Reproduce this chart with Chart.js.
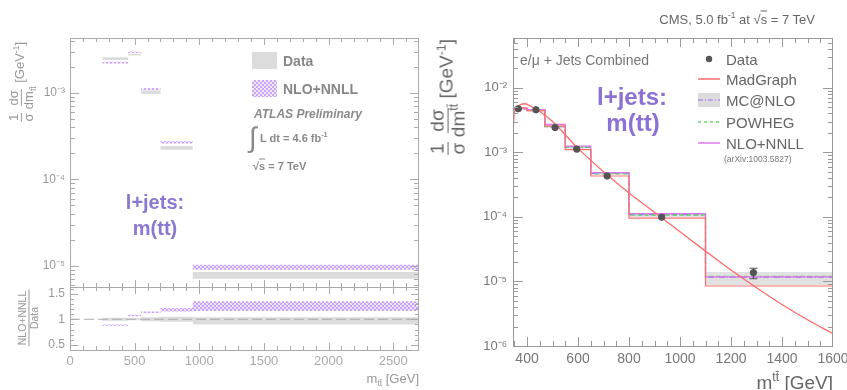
<!DOCTYPE html>
<html><head><meta charset="utf-8">
<script src="https://cdn.jsdelivr.net/npm/chart.js@4.4.0/dist/chart.umd.min.js"></script>
<style>
html,body{margin:0;padding:0;background:#fff;}
#wrap{position:relative;width:847px;height:390px;overflow:hidden;font-family:'Liberation Sans',Arial,Helvetica,sans-serif;}
canvas{position:absolute;}
.t{position:absolute;white-space:nowrap;line-height:1;transform:translateY(-50%);}
.c{position:absolute;white-space:nowrap;line-height:1;transform:translate(-50%,-50%);}
.rot{position:absolute;white-space:nowrap;line-height:1;transform:translate(-50%,-50%) rotate(-90deg);}
.frac{display:inline-flex;flex-direction:column;align-items:center;vertical-align:middle;line-height:1.05;}
.frac>span:first-child{border-bottom:1px solid currentColor;padding:0 1px;}
sup,sub{font-size:0.65em;line-height:0;}
</style></head>
<body>
<div id="wrap">
  <canvas id="cL" width="430" height="288" style="left:0;top:0;width:430px;height:288px"></canvas>
  <canvas id="cR" width="430" height="103" style="left:0;top:287px;width:430px;height:103px"></canvas>
  <canvas id="cC" width="417" height="390" style="left:430px;top:0;width:417px;height:390px"></canvas>

  <!-- ATLAS panel texts -->
  <div class="rot" style="left:21px;top:82px;font-size:13px;color:#999">
    <span class="frac"><span>1</span><span>σ</span></span>
    <span class="frac"><span>dσ</span><span>dm<sub>tt̄</sub></span></span> [GeV<sup>-1</sup>]</div>
  <div class="rot" style="left:29px;top:318px;font-size:10.5px;color:#999">
    <span class="frac"><span>NLO+NNLL</span><span>Data</span></span></div>
  <div style="position:absolute;left:252px;top:52px;width:25px;height:17px;background:#dcdcdc"></div>
  <div class="t" style="left:283px;top:61px;font-size:14px;font-weight:bold;color:#888">Data</div>
  <div style="position:absolute;left:252px;top:80px;width:25px;height:17px;background-image:repeating-conic-gradient(#caa8f8 0 25%, #efe6fd 0 50%);background-size:4px 4px"></div>
  <div class="t" style="left:283px;top:89px;font-size:14px;font-weight:bold;color:#888">NLO+NNLL</div>
  <div class="t" style="left:254px;top:114px;font-size:12px;font-weight:bold;font-style:italic;color:#8a8a8a">ATLAS Preliminary</div>
  <div class="t" style="left:249px;top:138px;font-size:28px;color:#8a8a8a">∫</div>
  <div class="t" style="left:260px;top:138px;font-size:11px;font-weight:bold;color:#8a8a8a">L dt = 4.6 fb<sup>-1</sup></div>
  <div class="t" style="left:253px;top:166px;font-size:11px;font-weight:bold;color:#8a8a8a">√<span style="text-decoration:overline">s</span> = 7 TeV</div>
  <div class="c" style="left:155px;top:202px;font-size:20px;font-weight:bold;color:#8c78d2">l+jets:</div>
  <div class="c" style="left:155px;top:228px;font-size:20px;font-weight:bold;color:#8c78d2">m(tt)</div>
  <div class="t" style="right:428px;top:378px;font-size:13px;color:#999">m<sub>tt̄</sub> [GeV]</div>

  <!-- CMS panel texts -->
  <div class="t" style="right:32px;top:19px;font-size:13px;color:#666">CMS, 5.0 fb<sup>-1</sup> at √<span style="text-decoration:overline">s</span> = 7 TeV</div>
  <div class="rot" style="left:448px;top:97px;font-size:19px;color:#666">
    <span class="frac"><span>1</span><span>σ</span></span>
    <span class="frac"><span>dσ</span><span>dm<sup>tt̄</sup></span></span> [GeV<sup>-1</sup>]</div>
  <div class="t" style="left:520px;top:60px;font-size:14px;color:#777">e/μ + Jets Combined</div>
  <svg style="position:absolute;left:695px;top:45px" width="30" height="110">
    <circle cx="14" cy="14" r="3.2" fill="#555"/>
    <line x1="3" y1="34" x2="25" y2="34" stroke="#ff6b6b" stroke-width="1.5"/>
    <rect x="3" y="48" width="22" height="14" fill="#dcdcdc"/>
    <line x1="3" y1="55" x2="25" y2="55" stroke="#9966ff" stroke-width="1.2" stroke-dasharray="5,2,1,2"/>
    <line x1="3" y1="77" x2="25" y2="77" stroke="#66dd66" stroke-width="1.3" stroke-dasharray="3,3"/>
    <line x1="3" y1="98" x2="25" y2="98" stroke="#dd77ee" stroke-width="1.5"/>
  </svg>
  <div class="t" style="left:726px;top:59px;font-size:15px;color:#666">Data</div>
  <div class="t" style="left:726px;top:79px;font-size:15px;color:#666">MadGraph</div>
  <div class="t" style="left:726px;top:100px;font-size:15px;color:#666">MC@NLO</div>
  <div class="t" style="left:726px;top:122px;font-size:15px;color:#666">POWHEG</div>
  <div class="t" style="left:726px;top:143px;font-size:15px;color:#666">NLO+NNLL</div>
  <div class="t" style="left:724px;top:159px;font-size:8.5px;color:#777">(arXiv:1003.5827)</div>
  <div class="c" style="left:632px;top:97px;font-size:24px;font-weight:bold;color:#8c70d4">l+jets:</div>
  <div class="c" style="left:633px;top:123px;font-size:24px;font-weight:bold;color:#8c70d4">m(tt)</div>
  <div class="t" style="right:14px;top:382px;font-size:19px;color:#666">m<sup>tt̄</sup> [GeV]</div>
</div>

<script>
// ===== ATLAS (left) =====
const atlasEdges  = [250, 450, 550, 700, 950, 2700];
const atlasDataLo = [2.40e-3, 2.70e-3, 0.97e-3, 2.20e-4, 7.1e-6];
const atlasDataHi = [2.58e-3, 2.80e-3, 1.06e-3, 2.43e-4, 8.5e-6];
const atlasNnllLo = [2.18e-3, 2.88e-3, 1.08e-3, 2.60e-4, 9.0e-6];
const atlasNnllHi = [2.28e-3, 2.98e-3, 1.13e-3, 2.75e-4, 1.03e-5];
const ratioNnllLo = [0.875, 1.06, 1.12, 1.15, 1.16];
const ratioNnllHi = [0.90, 1.09, 1.15, 1.22, 1.35];
const ratioDataLo = [0.97, 0.98, 0.96, 0.95, 0.90];
const ratioDataHi = [1.03, 1.02, 1.04, 1.05, 1.04];
const unityX = [0, 2700];
const unityY = 1;
const atlasXTicks = [0, 500, 1000, 1500, 2000, 2500];
const atlasYTicks = [1e-5, 1e-4, 1e-3];
const ratioYTicks = [0.5, 1, 1.5];

// ===== CMS (right) =====
const cmsEdges   = [345, 400, 470, 550, 650, 800, 1100, 1600];
const madgraph   = [4.9e-3, 4.4e-3, 2.55e-3, 1.10e-3, 4.3e-4, 9.6e-5, 8.5e-6];
const mcnlo      = [4.7e-3, 4.5e-3, 2.50e-3, 1.20e-3, 4.7e-4, 1.08e-4, 1.17e-5];
const mcnloHi    = [4.85e-3, 4.65e-3, 2.65e-3, 1.26e-3, 4.9e-4, 1.13e-4, 1.4e-5];
const mcnloLo    = [4.55e-3, 4.35e-3, 2.40e-3, 1.14e-3, 4.5e-4, 1.0e-4, 8.7e-6];
const powheg     = [4.75e-3, 4.5e-3, 2.50e-3, 1.20e-3, 4.65e-4, 1.07e-4, 1.2e-5];
const nnll       = [4.8e-3, 4.6e-3, 2.70e-3, 1.25e-3, 4.85e-4, 1.12e-4, 1.18e-5];
const cmsX       = [366, 435, 510, 595, 714, 928, 1288];
const cmsY       = [4.73e-3, 4.56e-3, 2.42e-3, 1.12e-3, 4.3e-4, 9.9e-5, 1.37e-5];
const cmsErrLo   = [4.55e-3, 4.40e-3, 2.32e-3, 1.07e-3, 4.05e-4, 9.1e-5, 1.1e-5];
const cmsErrHi   = [4.91e-3, 4.72e-3, 2.52e-3, 1.17e-3, 4.55e-4, 1.07e-4, 1.6e-5];
const mgCurveX   = [345, 346, 348, 352, 360, 375, 392, 410, 425, 450, 500, 600, 700, 800, 900, 1000, 1100, 1200, 1300, 1400, 1500, 1600];
const mgCurveY   = [2e-4, 1.5e-3, 3.2e-3, 4.3e-3, 5.0e-3, 5.5e-3, 5.65e-3, 5.3e-3, 4.9e-3, 4.3e-3, 3.0e-3, 1.15e-3, 5.0e-4, 2.35e-4, 1.18e-4, 5.9e-5, 2.95e-5, 1.5e-5, 8.0e-6, 4.4e-6, 2.55e-6, 1.55e-6];
const cmsXTicks  = [400, 600, 800, 1000, 1200, 1400, 1600];
const cmsYTicks  = [1e-6, 1e-5, 1e-4, 1e-3, 1e-2];

const FONT = "'Liberation Sans', Arial, Helvetica, sans-serif";
const SUP = {'-':'⁻','0':'⁰','1':'¹','2':'²','3':'³','4':'⁴','5':'⁵','6':'⁶','7':'⁷','8':'⁸','9':'⁹'};
function fmtPow(v){ const e = Math.round(Math.log10(v)); return '10' + String(e).split('').map(c=>SUP[c]).join(''); }
function fmtPlain(v){ return String(v); }
function stepPts(edges, vals){ const p=[]; vals.forEach((v,i)=>{ p.push({x:edges[i],y:v},{x:edges[i+1],y:v}); }); return p; }
function fitAxis(w,h){ return s => { if(w!=null) s.width=w; if(h!=null) s.height=h; s.paddingLeft=0; s.paddingRight=0; s.paddingTop=0; s.paddingBottom=0; }; }
function setTicks(arr){ return s => { s.ticks = arr.map(v=>({value:v})); }; }
function makeHatch(){ const c=document.createElement('canvas'); c.width=4; c.height=4; const g=c.getContext('2d'); g.fillStyle='#efe6fd'; g.fillRect(0,0,4,4); g.fillStyle='#c5a2f7'; g.fillRect(0,0,2,2); g.fillRect(2,2,2,2); return g.createPattern(c,'repeat'); }
const hatch = makeHatch();
const NONE = 'rgba(0,0,0,0)';
const NOGRID = {display:false, drawTicks:false};

// frame + inward ROOT-style ticks (decoration derived from scales)
const rootFrame = {
  id:'rootFrame',
  afterDatasetsDraw(chart, args, o){
    const {ctx, chartArea:a, scales} = chart; const xs=scales.x, ys=scales.y;
    ctx.save(); ctx.strokeStyle=o.color; ctx.lineWidth=1;
    ctx.strokeRect(Math.round(a.left)+0.5, Math.round(a.top)+0.5, Math.round(a.right-a.left)-1, Math.round(a.bottom-a.top));
    const ln=(x1,y1,x2,y2)=>{ctx.beginPath();ctx.moveTo(x1,y1);ctx.lineTo(x2,y2);ctx.stroke();};
    const eq=(v,s)=>Math.abs(v/s-Math.round(v/s))<1e-6;
    for(let v=Math.ceil(xs.min/o.xMinor)*o.xMinor; v<=xs.max+1e-9; v+=o.xMinor){
      const p=Math.round(xs.getPixelForValue(v))+0.5; if(p<a.left||p>a.right) continue;
      const L=eq(v,o.xMajor)?o.xMaj:o.xMin;
      if(o.bottom!==false) ln(p,a.bottom,p,a.bottom-L);
      if(o.top!==false) ln(p,a.top,p,a.top+L);
    }
    const yt=(v,L)=>{ const p=Math.round(ys.getPixelForValue(v))+0.5; if(p<a.top-0.1||p>a.bottom+0.6) return; ln(a.left,p,a.left+L,p); ln(a.right,p,a.right-L,p); };
    if(o.yLog){
      for(let e=Math.floor(Math.log10(ys.min)); e<=Math.ceil(Math.log10(ys.max)); e++)
        for(let k=1;k<=9;k++){ const v=k*Math.pow(10,e); if(v<ys.min||v>ys.max) continue; yt(v, k===1?o.yMaj:o.yMin); }
    } else {
      for(let v=Math.ceil(ys.min/o.yMinor)*o.yMinor; v<=ys.max+1e-9; v+=o.yMinor) yt(v, eq(v,o.yMajor)?o.yMaj:o.yMin);
    }
    ctx.restore();
  }
};

const errBars = {
  id:'errBars',
  afterDatasetsDraw(chart){
    const {ctx, scales:{x,y}} = chart; ctx.save(); ctx.strokeStyle='#555'; ctx.lineWidth=1.2;
    cmsX.forEach((xv,i)=>{ const px=x.getPixelForValue(xv), t=y.getPixelForValue(cmsErrHi[i]), b=y.getPixelForValue(cmsErrLo[i]);
      ctx.beginPath(); ctx.moveTo(px,t); ctx.lineTo(px,b); ctx.stroke();
      if(b-t>8){ ctx.beginPath(); ctx.moveTo(px-4,t); ctx.lineTo(px+4,t); ctx.moveTo(px-4,b); ctx.lineTo(px+4,b); ctx.stroke(); } });
    ctx.restore();
  }
};

const band = (pts, fill, bg) => ({data:pts, borderColor:NONE, borderWidth:1, pointRadius:0, fill:fill, backgroundColor:bg||NONE});
const baseOpts = {responsive:false, animation:false, events:[]};

// Left main
new Chart(document.getElementById('cL'), {
  type:'line',
  data:{datasets:[
    band(stepPts(atlasEdges, atlasNnllHi), false),
    band(stepPts(atlasEdges, atlasNnllLo), '-1', hatch),
    band(stepPts(atlasEdges, atlasDataHi), false),
    band(stepPts(atlasEdges, atlasDataLo), '-1', '#dcdcdc'),
  ]},
  options:{...baseOpts,
    layout:{padding:{top:38,left:0,right:11,bottom:1}},
    plugins:{legend:{display:false}, tooltip:{enabled:false},
      rootFrame:{color:'#aaa', xMinor:100, xMajor:500, xMaj:7, xMin:4, yLog:true, yMaj:9, yMin:5}},
    scales:{
      x:{type:'linear', min:0, max:2700, display:false},
      y:{type:'logarithmic', min:5.7e-6, max:4.3e-3, afterFit:fitAxis(70,null), afterBuildTicks:setTicks(atlasYTicks),
         grid:NOGRID, border:{display:false},
         ticks:{callback:fmtPow, color:'#999', font:{size:12,family:FONT}, padding:5, autoSkip:false}}
    }},
  plugins:[rootFrame]
});

// Left ratio
new Chart(document.getElementById('cR'), {
  type:'line',
  data:{datasets:[
    {data:unityX.map(x=>({x:x,y:unityY})), borderColor:'#aaa', borderWidth:1.2, borderDash:[10,4], pointRadius:0, fill:false},
    band(stepPts(atlasEdges, ratioNnllHi), false),
    band(stepPts(atlasEdges, ratioNnllLo), '-1', hatch),
    band(stepPts(atlasEdges, ratioDataHi), false),
    band(stepPts(atlasEdges, ratioDataLo), '-1', '#dcdcdc'),
  ]},
  options:{...baseOpts,
    layout:{padding:{top:0,left:0,right:11,bottom:0}},
    plugins:{legend:{display:false}, tooltip:{enabled:false},
      rootFrame:{color:'#aaa', xMinor:100, xMajor:500, xMaj:7, xMin:4, yLog:false, yMinor:0.1, yMajor:0.5, yMaj:8, yMin:4}},
    scales:{
      x:{type:'linear', min:0, max:2700, afterFit:fitAxis(null,40), afterBuildTicks:setTicks(atlasXTicks),
         grid:NOGRID, border:{display:false},
         ticks:{callback:fmtPlain, color:'#aaa', font:{size:13,family:FONT}, padding:4, autoSkip:false, maxRotation:0}},
      y:{type:'linear', min:0.4, max:1.63, afterFit:fitAxis(70,null), afterBuildTicks:setTicks(ratioYTicks),
         grid:NOGRID, border:{display:false},
         ticks:{callback:fmtPlain, color:'#999', font:{size:12,family:FONT}, padding:5, autoSkip:false}}
    }},
  plugins:[rootFrame]
});

// Right CMS
new Chart(document.getElementById('cC'), {
  type:'line',
  data:{datasets:[
    {data:cmsX.map((x,i)=>({x:x,y:cmsY[i]})), showLine:false, pointRadius:3.2, pointBackgroundColor:'#555', pointBorderColor:'#555', fill:false},
    {data:mgCurveX.map((x,i)=>({x:x,y:mgCurveY[i]})), borderColor:'#ff6b6b', borderWidth:1.3, pointRadius:0, fill:false, cubicInterpolationMode:'monotone'},
    {data:stepPts(cmsEdges, madgraph), borderColor:'#ff7070', borderWidth:1.2, pointRadius:0, fill:false},
    {data:stepPts(cmsEdges, nnll), borderColor:'#dd77ee', borderWidth:1.3, pointRadius:0, fill:false},
    {data:stepPts(cmsEdges, powheg), borderColor:'#55dd55', borderWidth:1.3, borderDash:[4,3], pointRadius:0, fill:false},
    {data:stepPts(cmsEdges, mcnlo), borderColor:'#9966ff', borderWidth:1.2, borderDash:[6,2,1,2], pointRadius:0, fill:false},
    band(stepPts(cmsEdges, mcnloHi), false),
    band(stepPts(cmsEdges, mcnloLo), '-1', 'rgba(200,200,200,0.55)'),
  ]},
  options:{...baseOpts,
    layout:{padding:{top:38,left:0,right:14,bottom:0}},
    plugins:{legend:{display:false}, tooltip:{enabled:false},
      rootFrame:{color:'#999', xMinor:50, xMajor:200, xMaj:9, xMin:5, yLog:true, yMaj:10, yMin:5}},
    scales:{
      x:{type:'linear', min:345, max:1600, afterFit:fitAxis(null,44), afterBuildTicks:setTicks(cmsXTicks),
         grid:NOGRID, border:{display:false},
         ticks:{callback:fmtPlain, color:'#777', font:{size:14,family:FONT}, padding:5, autoSkip:false, maxRotation:0}},
      y:{type:'logarithmic', min:1e-6, max:5.9e-2, afterFit:fitAxis(83,null), afterBuildTicks:setTicks(cmsYTicks),
         grid:NOGRID, border:{display:false},
         ticks:{callback:fmtPow, color:'#777', font:{size:13,family:FONT}, padding:6, autoSkip:false}}
    }},
  plugins:[rootFrame, errBars]
});
</script>
</body></html>
